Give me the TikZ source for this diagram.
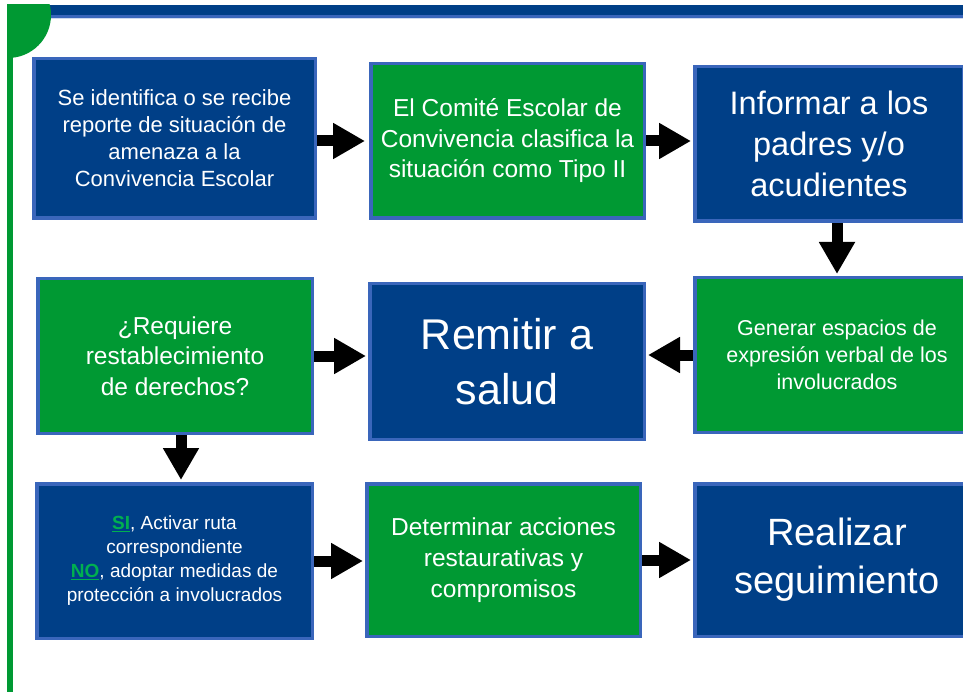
\documentclass[tikz,border=0pt]{standalone}
\usepackage{fontspec}
\setmainfont{Liberation Sans}
\usepackage{xcolor}
\usetikzlibrary{arrows.meta,positioning}
\definecolor{boxblue}{RGB}{0,63,135}
\definecolor{boxgreen}{RGB}{0,153,51}
\definecolor{edgeblue}{RGB}{58,102,187}
\definecolor{sigreen}{RGB}{0,176,80}
\tikzstyle{bluebox} = [rectangle, draw=edgeblue, line width=3.5pt, fill=boxblue, text=white, align=center, anchor=north west, inner sep=0pt]
\tikzstyle{greenbox} = [bluebox, fill=boxgreen]
\tikzstyle{arrow} = [line width=11pt, -{Triangle[length=32pt,width=34pt]}, shorten >=2pt]

\begin{document}
\begin{tikzpicture}[x=1pt, y=-1pt]
                                \useasboundingbox (0,0) rectangle (963,692);
                                \clip (0,0) rectangle (963,692);
                                \fill [boxblue] (7,5) rectangle (963,15);
                                \fill [edgeblue] (7,15) rectangle (963,18);
                                \fill [edgeblue!25] (7,18) rectangle (963,19);
                                \begin{scope}
                                    \clip (7,5) rectangle (60,70);
                                    \fill [boxgreen] (8,15) circle [radius=43];
                                \end{scope}
                                \fill [boxgreen] (7,5) rectangle (13,692);
                                \node (b1) [bluebox, minimum width=281.5, minimum height=159.5, font=\fontsize{22}{27}\selectfont] at (32,57) {Se identifica o se recibe\\reporte de situación de\\amenaza a la\\Convivencia Escolar};
                                \node (b2) [greenbox, minimum width=273.5, minimum height=154.5, font=\fontsize{24.5}{30.5}\selectfont] at (369,62) {El Comité Escolar de\\Convivencia clasifica la\\situación como Tipo II};
                                \node (b3) [bluebox, minimum width=268.5, minimum height=154.5, font=\fontsize{32.5}{41}\selectfont] at (693,65) {Informar a los\\padres y/o\\acudientes};
                                \node (b4) [greenbox, minimum width=274.5, minimum height=154.5, font=\fontsize{24.5}{30.5}\selectfont] at (36,277) {¿Requiere\\restablecimiento\\de derechos?};
                                \node (b5) [bluebox, minimum width=274.5, minimum height=155.5, font=\fontsize{43}{55}\selectfont] at (368,282) {Remitir a\\salud};
                                \node (b6) [greenbox, minimum width=284.5, minimum height=154.5, font=\fontsize{21.5}{27}\selectfont] at (693,276) {Generar espacios de\\expresión verbal de los\\involucrados};
                                \node (b7) [bluebox, minimum width=275.5, minimum height=154.5, font=\fontsize{19}{24}\selectfont] at (35,482) {\textcolor{sigreen}{\underline{\textbf{SI}}}, Activar ruta\\correspondiente\\\textcolor{sigreen}{\underline{\textbf{NO}}}, adoptar medidas de\\protección a involucrados};
                                \node (b8) [greenbox, minimum width=273.5, minimum height=152.5, font=\fontsize{24.5}{31}\selectfont] at (365,482) {Determinar acciones\\restaurativas y\\compromisos};
                                \node (b9) [bluebox, minimum width=284.5, minimum height=152.5, font=\fontsize{38}{48}\selectfont] at (693,482) {Realizar\\seguimiento};
                                \draw [arrow, shorten >=4pt] (b1.east |- b2.west) -- (b2.west);
                                \draw [arrow] (b2.east) -- (b3.west |- b2.east);
                                \draw [arrow] (b3.south -| b6.north) -- (b6.north);
                                \draw [arrow] (b6.west) -- (b5.east |- b6.west);
                                \draw [arrow] (b4.east) -- (b5.west |- b4.east);
                                \draw [arrow] ([xshift=6pt]b4.south) -- ([xshift=6pt]b4.south |- b7.north);
                                \draw [arrow] (b7.east) -- (b8.west |- b7.east);
                                \draw [arrow] (b8.east) -- (b9.west |- b8.east);
                            \end{tikzpicture}
\end{document}
